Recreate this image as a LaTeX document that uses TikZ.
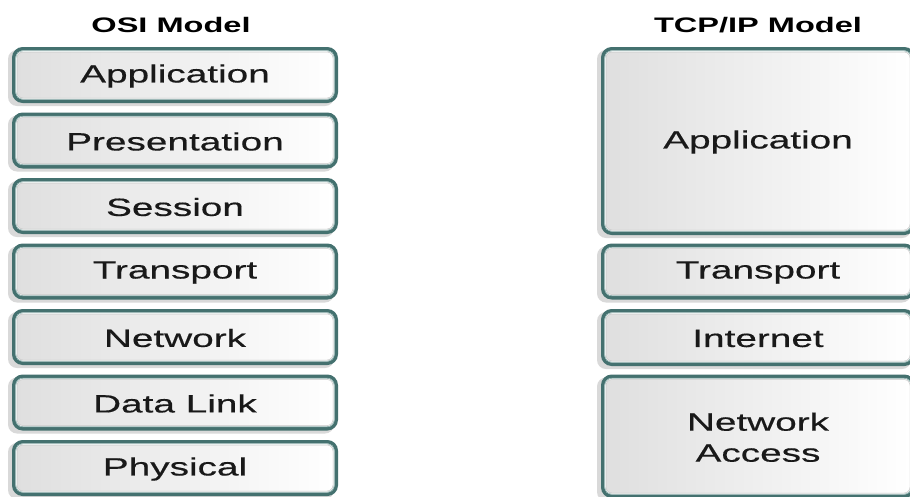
\documentclass[tikz,border=0pt]{standalone}
\usepackage{fontspec}
\newfontfamily\lblfont[FakeStretch=1.55,FakeBold=0.4]{Liberation Sans}
\newfontfamily\ttlfont[FakeStretch=1.55]{Liberation Sans Bold}
\definecolor{rim}{HTML}{44716F}
\definecolor{rimlight}{HTML}{8FB0AE}
\tikzset{
  lbl/.style={font=\lblfont\fontsize{25}{31}\selectfont, text=black!90, align=center, inner sep=0pt},
  ttl/.style={font=\ttlfont\fontsize{21}{24}\selectfont, text=black, inner sep=0pt},
}
\newcommand{\layerbox}[6]{%
  \fill[gray!30, rounded corners=9pt] (#1-4,#2+3) rectangle (#3-4,#4+3);
  \draw[rim, line width=3.4pt, fill=white, rounded corners=9pt] (#1+1.7,#2+1.7) rectangle (#3-1.7,#4-1.7);
  \draw[rimlight, line width=0.8pt, rounded corners=7pt] (#1+3.8,#2+3.8) rectangle (#3-3.8,#4-3.8);
  \shade[left color=gray!25, right color=white, rounded corners=6pt] (#1+5,#2+5) rectangle (#3-5,#4-5);
  \draw[gray!45, line width=0.5pt, rounded corners=6pt] (#1+5,#2+5) rectangle (#3-5,#4-5);
  \node[lbl] (#5) at ({(#1+#3)/2},{(#2+#4)/2+1}) {#6};
}
\begin{document}
\begin{tikzpicture}[x=1pt,y=-1pt]
\useasboundingbox (0,0) rectangle (910,496);
\clip (0,0) rectangle (910,496);
\fill[white] (0,0) rectangle (910,496);
\node[ttl] (osi) at (171,25) {OSI Model};
\node[ttl] (tcp) at (758,25) {TCP/IP Model};
% OSI
\layerbox{12}{47}{338}{103}{oapp}{Application}
\layerbox{12}{112.5}{338}{168.5}{opres}{Presentation}
\layerbox{12}{178}{338}{234}{osess}{Session}
\layerbox{12}{243.5}{338}{299.5}{otrans}{Transport}
\layerbox{12}{309}{338}{365}{onet}{Network}
\layerbox{12}{374.5}{338}{430.5}{odl}{Data Link}
\layerbox{12}{440}{338}{496}{ophy}{Physical}
% TCP/IP
\layerbox{601}{47}{915}{235}{tapp}{Application}
\layerbox{601}{243.5}{915}{299.5}{ttrans}{Transport}
\layerbox{601}{309}{915}{366}{tint}{Internet}
\layerbox{601}{374.5}{915}{498}{tacc}{Network\\Access}
\end{tikzpicture}
\end{document}
